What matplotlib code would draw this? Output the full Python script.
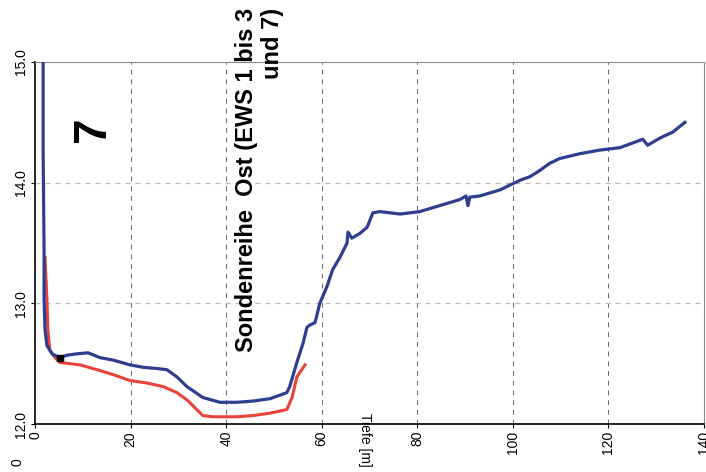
import matplotlib
matplotlib.use("Agg")
import matplotlib.pyplot as plt

plt.rcParams['font.family'] = ['Liberation Sans', 'DejaVu Sans']

# depth [m] and temperature [deg C]
blue_depth = [1.7, 1.7, 1.9, 1.9, 2.1, 2.5, 3.6, 5.2, 6.7, 8.4, 11.1, 13.6, 16.3,
              19.9, 22.6, 25.5, 27.6, 29.7, 31.8, 35.1, 38.7, 42.3, 45.6, 49.2,
              52.7, 53.3, 54.8, 56.1, 56.9, 57.5, 58.6, 59.6, 61.1, 62.3, 63.8,
              65.3, 65.5, 66.3, 68.0, 69.5, 70.7, 72.2, 76.4, 80.5, 84.7, 88.9,
              90.2, 90.6, 91.0, 93.1, 97.3, 99.4, 101.5, 103.6, 105.6, 107.7,
              109.8, 114.0, 118.2, 122.4, 127.2, 128.2, 130.8, 133.5, 136.0]
blue_temp = [15.2, 14.27, 13.44, 13.03, 12.78, 12.65, 12.58, 12.55, 12.57, 12.58,
             12.59, 12.55, 12.53, 12.49, 12.47, 12.46, 12.45, 12.39, 12.31, 12.22,
             12.18, 12.18, 12.19, 12.21, 12.26, 12.31, 12.51, 12.67, 12.80, 12.82,
             12.84, 13.00, 13.14, 13.28, 13.38, 13.50, 13.59, 13.54, 13.58, 13.63,
             13.75, 13.76, 13.74, 13.76, 13.81, 13.86, 13.89, 13.81, 13.88, 13.89,
             13.94, 13.98, 14.02, 14.05, 14.10, 14.16, 14.20, 14.24, 14.27, 14.29,
             14.36, 14.31, 14.37, 14.42, 14.50]

red_depth = [2.1, 2.5, 2.7, 3.1, 4.2, 5.2, 9.4, 13.0, 16.3, 19.9, 23.4, 26.8,
             29.7, 31.8, 35.1, 37.2, 42.3, 45.6, 49.2, 52.7, 53.8, 54.8, 56.5]
red_temp = [13.38, 13.03, 12.78, 12.61, 12.55, 12.51, 12.49, 12.45, 12.41, 12.36,
            12.34, 12.31, 12.26, 12.20, 12.07, 12.06, 12.06, 12.07, 12.09, 12.12,
            12.22, 12.39, 12.49]

x_ticks = [0, 20, 40, 60, 80, 100, 120, 140]
y_ticks = [12.0, 13.0, 14.0, 15.0]

fig = plt.figure(figsize=(7.06, 4.72), dpi=100)
ax = fig.add_axes([35 / 706, 48 / 472, 669 / 706, 362 / 472])

# grid
for xv in x_ticks[1:-1]:
    ax.axvline(xv, color='#666666', lw=0.7, ls=(0, (5, 5)), zorder=1)
for yv in y_ticks[1:-1]:
    ax.axhline(yv, color='#bbbbbb', lw=0.9, ls=(0, (4, 4)), zorder=1)

ax.plot(red_depth, red_temp, color='#e8423a', lw=2.2, zorder=3)
ax.plot(blue_depth, blue_temp, color='#2d3e8e', lw=2.3, zorder=4)
ax.plot([5.2], [12.55], marker='s', ms=4, color='black', ls='none', zorder=5)

ax.set_xlim(0, 140)
ax.set_ylim(12.0, 15.0)
ax.set_xticks(x_ticks)
ax.set_yticks(y_ticks)
ax.set_xticklabels([str(v) for v in x_ticks], rotation=90, fontsize=10)
ax.set_yticklabels(['%.1f' % v for v in y_ticks], rotation=90, fontsize=10, va='center')
ax.tick_params(axis='both', direction='out', length=3, width=0.8, pad=2)

for side in ['left', 'bottom']:
    ax.spines[side].set_color('black')
    ax.spines[side].set_linewidth(1.2)
for side in ['top', 'right']:
    ax.spines[side].set_color('#888888')
    ax.spines[side].set_linewidth(0.8)

fig.text(365 / 706, 1 - 440 / 472, 'Tiefe [m]', rotation=-90, fontsize=10,
         ha='center', va='center')

fig.text(93 / 706, 1 - 129 / 472, '7', rotation=90, fontsize=33, fontweight='heavy',
         ha='center', va='center')
fig.text(235 / 706, 1 - 8 / 472, 'Sondenreihe  Ost (EWS 1 bis 3\nund 7)', rotation=90,
         fontsize=17, fontweight='bold', ha='left', va='top', multialignment='right',
         linespacing=1.15)

fig.text(18 / 706, 1 - 462 / 472, '0', rotation=90, fontsize=10, ha='center', va='center')

fig.savefig('out.png', dpi=100)
